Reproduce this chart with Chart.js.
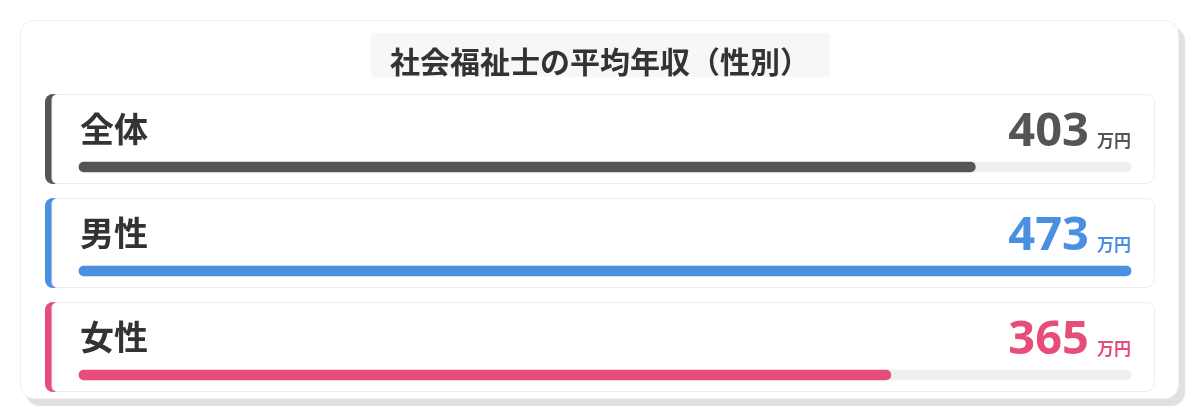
<!DOCTYPE html>
<html lang="ja">
<head>
<meta charset="utf-8">
<script src="https://cdn.jsdelivr.net/npm/chart.js@4/dist/chart.umd.min.js"></script>
<style>
  html, body { margin: 0; padding: 0; background: #ffffff; width: 1200px; height: 420px; overflow: hidden; }
  #card {
    position: absolute; left: 20px; top: 20px; width: 1157px; height: 377px;
    border: 1px solid #f0f0f0; border-radius: 14px; background: #fff;
    box-shadow: 6px 7px 1px #e0e0e0;
  }
  #wrap { position: absolute; left: 0; top: 0; width: 1200px; height: 420px; }
</style>
</head>
<body>
<div id="card"></div>
<div id="wrap"><canvas id="c" width="1200" height="420"></canvas></div>
<script>
// ---- data ----
const chartTitle = "社会福祉士の平均年収（性別）";
const categories = ["全体", "男性", "女性"];
const incomes = [403, 473, 365];          // 平均年収（万円）
const unitLabel = "万円";
// ---- styles ----
const barColors = ["#555555", "#4a90e2", "#e64d78"];
const trackColor = "#efefef";
const FONT = '"Noto Sans CJK JP", "Noto Sans", sans-serif';
const NUM_FONT = '"Noto Sans", "Noto Sans CJK JP", sans-serif';

const maxIncome = Math.max(...incomes);
const trackValues = categories.map(() => maxIncome);

const rowPlugin = {
  id: 'rows',
  beforeDatasetsDraw(chart) {
    const { ctx, chartArea } = chart;
    const y = chart.scales.y;
    ctx.save();
    // title box
    ctx.fillStyle = '#f7f7f7';
    ctx.beginPath();
    ctx.roundRect(371, 33, 459, 44, 4);
    ctx.fill();
    ctx.fillStyle = '#333333';
    ctx.font = 'bold 30px ' + FONT;
    ctx.textAlign = 'center';
    ctx.textBaseline = 'middle';
    ctx.fillText(chartTitle, 600, 62);

    categories.forEach((cat, i) => {
      const cy = y.getPixelForValue(i);
      const left = chartArea.left - 34, right = chartArea.right + 24;
      const top = cy - 73, h = 90, w = right - left;
      // accent + card
      ctx.fillStyle = barColors[i];
      ctx.beginPath();
      ctx.roundRect(left, top, 20, h, [8, 0, 0, 8]);
      ctx.fill();
      ctx.fillStyle = '#ffffff';
      ctx.strokeStyle = '#ececec';
      ctx.lineWidth = 1;
      ctx.beginPath();
      ctx.roundRect(left + 7, top + 0.5, w - 7.5, h - 1, [5, 8, 8, 5]);
      ctx.fill();
      ctx.stroke();
      // label
      ctx.fillStyle = '#333333';
      ctx.font = 'bold 34px ' + FONT;
      ctx.textAlign = 'left';
      ctx.textBaseline = 'middle';
      ctx.fillText(cat, chartArea.left + 1, cy - 38);
      // value + unit
      ctx.textBaseline = 'alphabetic';
      ctx.textAlign = 'right';
      ctx.fillStyle = barColors[i];
      ctx.font = 'bold 17px ' + FONT;
      const uw = ctx.measureText(unitLabel).width;
      ctx.fillText(unitLabel, chartArea.right, cy - 20);
      ctx.font = 'bold 47px ' + NUM_FONT;
      ctx.fillText(String(incomes[i]), chartArea.right - uw - 8, cy - 21);
    });
    ctx.restore();
  }
};

new Chart(document.getElementById('c'), {
  type: 'bar',
  data: {
    labels: categories,
    datasets: [
      {
        label: '平均年収',
        data: incomes,
        backgroundColor: barColors,
        barThickness: 10,
        borderRadius: 5,
        borderSkipped: false,
        grouped: false,
        clip: false
      },
      {
        label: 'track',
        data: trackValues,
        backgroundColor: trackColor,
        barThickness: 10,
        borderRadius: 5,
        borderSkipped: false,
        grouped: false,
        clip: false
      }
    ]
  },
  options: {
    indexAxis: 'y',
    responsive: false,
    animation: false,
    devicePixelRatio: 1,
    layout: { padding: { left: 79, right: 69, top: 167, bottom: 45 } },
    plugins: { legend: { display: false }, tooltip: { enabled: false }, title: { display: false } },
    scales: {
      x: { display: false, min: 0, max: maxIncome },
      y: { display: false, offset: false, grid: { offset: false } }
    }
  },
  plugins: [rowPlugin]
});
</script>
</body>
</html>
